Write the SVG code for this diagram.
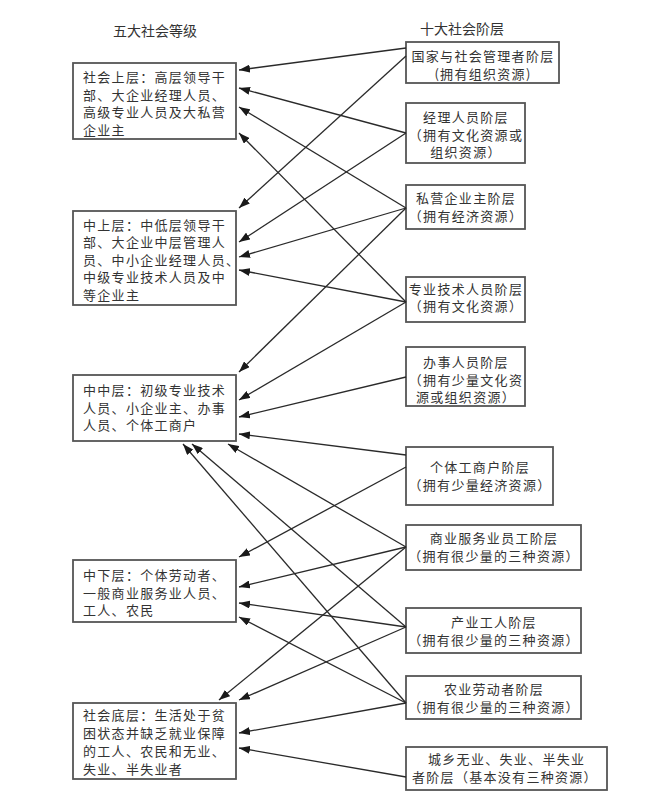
<svg xmlns="http://www.w3.org/2000/svg" width="650" height="811" viewBox="0 0 650 811">
<style>
.bx{fill:#fff;stroke:#555;stroke-width:1.8}
.t{font-family:'Noto Sans CJK SC','Noto Sans CJK JP',sans-serif;font-size:13px;letter-spacing:1.3px;fill:#333}
.h{font-size:14px;letter-spacing:0}
.m{text-anchor:middle}
.ln{stroke:#2a2a2a;stroke-width:1.3;fill:none;marker-end:url(#ah)}
</style>
<defs>
<marker id="ah" viewBox="0 0 11 8" refX="11" refY="4" markerWidth="11" markerHeight="8" markerUnits="userSpaceOnUse" orient="auto">
<path d="M0,0 L11,4 L0,8 z" fill="#1a1a1a"/>
</marker>
</defs>
<rect width="650" height="811" fill="#fff"/>
<text class="t h m" x="155" y="36">五大社会等级</text>
<text class="t h m" x="462" y="34">十大社会阶层</text>

<g id="L1"><rect class="bx" x="73" y="63" width="163" height="76"/>
<text class="t"><tspan x="83" y="82">社会上层：高层领导干</tspan><tspan x="83" y="99.5">部、大企业经理人员、</tspan><tspan x="83" y="117">高级专业人员及大私营</tspan><tspan x="83" y="134.5">企业主</tspan></text></g>

<g id="L2"><rect class="bx" x="73" y="211" width="163" height="94"/>
<text class="t"><tspan x="83" y="229.5">中上层：中低层领导干</tspan><tspan x="83" y="247">部、大企业中层管理人</tspan><tspan x="83" y="264.5">员、中小企业经理人员、</tspan><tspan x="83" y="282">中级专业技术人员及中</tspan><tspan x="83" y="299.5">等企业主</tspan></text></g>

<g id="L3"><rect class="bx" x="73" y="375" width="163" height="66"/>
<text class="t"><tspan x="83" y="395">中中层：初级专业技术</tspan><tspan x="83" y="412.5">人员、小企业主、办事</tspan><tspan x="83" y="430">人员、个体工商户</tspan></text></g>

<g id="L4"><rect class="bx" x="73" y="560" width="163" height="62"/>
<text class="t"><tspan x="83" y="580">中下层：个体劳动者、</tspan><tspan x="83" y="597.5">一般商业服务业人员、</tspan><tspan x="83" y="615">工人、农民</tspan></text></g>

<g id="L5"><rect class="bx" x="73" y="703" width="163" height="76"/>
<text class="t"><tspan x="83" y="720">社会底层：生活处于贫</tspan><tspan x="83" y="738">困状态并缺乏就业保障</tspan><tspan x="83" y="756">的工人、农民和无业、</tspan><tspan x="83" y="774">失业、半失业者</tspan></text></g>

<g id="R1"><rect class="bx" x="406" y="42" width="153" height="41"/>
<text class="t m"><tspan x="483" y="61">国家与社会管理者阶层</tspan><tspan x="483" y="78.5">(拥有组织资源)</tspan></text></g>

<g id="R2"><rect class="bx" x="406" y="103" width="119" height="60"/>
<text class="t m"><tspan x="466" y="122">经理人员阶层</tspan><tspan x="466" y="139.5">（拥有文化资源或</tspan><tspan x="466" y="157">组织资源）</tspan></text></g>

<g id="R3"><rect class="bx" x="406" y="185" width="119" height="44"/>
<text class="t m"><tspan x="466" y="203">私营企业主阶层</tspan><tspan x="466" y="220.5">（拥有经济资源）</tspan></text></g>

<g id="R4"><rect class="bx" x="406" y="277" width="119" height="45"/>
<text class="t m"><tspan x="466" y="293.5">专业技术人员阶层</tspan><tspan x="466" y="311">（拥有文化资源）</tspan></text></g>

<g id="R5"><rect class="bx" x="406" y="347" width="119" height="59"/>
<text class="t m"><tspan x="466" y="367">办事人员阶层</tspan><tspan x="466" y="384.5">（拥有少量文化资</tspan><tspan x="466" y="402">源或组织资源）</tspan></text></g>

<g id="R6"><rect class="bx" x="406" y="447" width="147" height="58"/>
<text class="t m"><tspan x="480" y="472">个体工商户阶层</tspan><tspan x="480" y="489.5">（拥有少量经济资源）</tspan></text></g>

<g id="R7"><rect class="bx" x="406" y="525" width="175" height="45"/>
<text class="t m"><tspan x="494" y="543">商业服务业员工阶层</tspan><tspan x="494" y="561">（拥有很少量的三种资源）</tspan></text></g>

<g id="R8"><rect class="bx" x="406" y="608" width="175" height="45"/>
<text class="t m"><tspan x="494" y="627">产业工人阶层</tspan><tspan x="494" y="644.5">（拥有很少量的三种资源）</tspan></text></g>

<g id="R9"><rect class="bx" x="406" y="676" width="175" height="43"/>
<text class="t m"><tspan x="494" y="694">农业劳动者阶层</tspan><tspan x="494" y="712">（拥有很少量的三种资源）</tspan></text></g>

<g id="R10"><rect class="bx" x="406" y="747" width="201" height="43"/>
<text class="t"><tspan x="428" y="763.5">城乡无业、失业、半失业</tspan><tspan x="412" y="782">者阶层（基本没有三种资源）</tspan></text></g>

<g id="connectors">
<line class="ln" x1="406" y1="48" x2="239" y2="70"/>
<line class="ln" x1="406" y1="56" x2="239" y2="208"/>
<line class="ln" x1="406" y1="133" x2="239" y2="88"/>
<line class="ln" x1="406" y1="133" x2="239" y2="242"/>
<line class="ln" x1="406" y1="208" x2="239" y2="107"/>
<line class="ln" x1="406" y1="208" x2="239" y2="257"/>
<line class="ln" x1="406" y1="208" x2="239" y2="372"/>
<line class="ln" x1="406" y1="302" x2="239" y2="133"/>
<line class="ln" x1="406" y1="302" x2="239" y2="270"/>
<line class="ln" x1="406" y1="302" x2="239" y2="400"/>
<line class="ln" x1="406" y1="377" x2="239" y2="417"/>
<line class="ln" x1="406" y1="455" x2="239" y2="434"/>
<line class="ln" x1="406" y1="467" x2="239" y2="557"/>
<line class="ln" x1="406" y1="547" x2="228" y2="444"/>
<line class="ln" x1="406" y1="547" x2="239" y2="587"/>
<line class="ln" x1="406" y1="547" x2="219" y2="700"/>
<line class="ln" x1="406" y1="627" x2="192" y2="444"/>
<line class="ln" x1="406" y1="627" x2="239" y2="603"/>
<line class="ln" x1="406" y1="627" x2="239" y2="700"/>
<line class="ln" x1="406" y1="703" x2="183" y2="444"/>
<line class="ln" x1="406" y1="703" x2="239" y2="617"/>
<line class="ln" x1="406" y1="703" x2="239" y2="733"/>
<line class="ln" x1="406" y1="777" x2="239" y2="748"/>
</g>
</svg>
